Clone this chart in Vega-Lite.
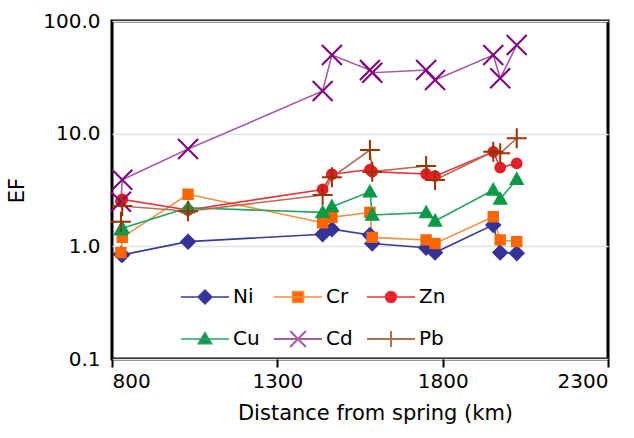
{
  "$schema": "https://vega.github.io/schema/vega-lite/v6.json",
  "width": 496,
  "height": 338,
  "autosize": "none",
  "padding": {"left": 112, "top": 21, "right": 26, "bottom": 79},
  "background": "white",
  "config": {
    "font": "DejaVu Sans",
    "view": {"stroke": "black", "strokeWidth": 3},
    "axis": {"labelFont": "DejaVu Sans", "titleFont": "DejaVu Sans", "labelColor": "black", "titleColor": "black", "labelFontSize": 20, "titleFontSize": 21, "titleFontWeight": "normal", "domain": false}
  },
  "data": {
    "values": [
      {"d": 827, "el": "Ni", "ef": 0.85}, {"d": 831, "el": "Ni", "ef": 0.84}, {"d": 1030, "el": "Ni", "ef": 1.10}, {"d": 1437, "el": "Ni", "ef": 1.28}, {"d": 1465, "el": "Ni", "ef": 1.42}, {"d": 1580, "el": "Ni", "ef": 1.26}, {"d": 1587, "el": "Ni", "ef": 1.06}, {"d": 1750, "el": "Ni", "ef": 0.97}, {"d": 1777, "el": "Ni", "ef": 0.88}, {"d": 1953, "el": "Ni", "ef": 1.55}, {"d": 1974, "el": "Ni", "ef": 0.88}, {"d": 2024, "el": "Ni", "ef": 0.87},
      {"d": 827, "el": "Cr", "ef": 0.88}, {"d": 831, "el": "Cr", "ef": 1.20}, {"d": 1030, "el": "Cr", "ef": 2.9}, {"d": 1437, "el": "Cr", "ef": 1.62}, {"d": 1465, "el": "Cr", "ef": 1.81}, {"d": 1580, "el": "Cr", "ef": 2.0}, {"d": 1587, "el": "Cr", "ef": 1.2}, {"d": 1750, "el": "Cr", "ef": 1.14}, {"d": 1777, "el": "Cr", "ef": 1.06}, {"d": 1953, "el": "Cr", "ef": 1.83}, {"d": 1974, "el": "Cr", "ef": 1.14}, {"d": 2024, "el": "Cr", "ef": 1.1},
      {"d": 827, "el": "Zn", "ef": 2.5}, {"d": 831, "el": "Zn", "ef": 2.61}, {"d": 1030, "el": "Zn", "ef": 2.1}, {"d": 1437, "el": "Zn", "ef": 3.2}, {"d": 1465, "el": "Zn", "ef": 4.36}, {"d": 1580, "el": "Zn", "ef": 4.8}, {"d": 1587, "el": "Zn", "ef": 4.6}, {"d": 1750, "el": "Zn", "ef": 4.38}, {"d": 1777, "el": "Zn", "ef": 4.2}, {"d": 1953, "el": "Zn", "ef": 6.9}, {"d": 1974, "el": "Zn", "ef": 5.0}, {"d": 2024, "el": "Zn", "ef": 5.45},
      {"d": 827, "el": "Cu", "ef": 1.40}, {"d": 831, "el": "Cu", "ef": 1.45}, {"d": 1030, "el": "Cu", "ef": 2.2}, {"d": 1437, "el": "Cu", "ef": 2.0}, {"d": 1465, "el": "Cu", "ef": 2.25}, {"d": 1580, "el": "Cu", "ef": 3.05}, {"d": 1587, "el": "Cu", "ef": 1.9}, {"d": 1750, "el": "Cu", "ef": 1.99}, {"d": 1777, "el": "Cu", "ef": 1.68}, {"d": 1953, "el": "Cu", "ef": 3.16}, {"d": 1974, "el": "Cu", "ef": 2.63}, {"d": 2024, "el": "Cu", "ef": 3.93},
      {"d": 827, "el": "Cd", "ef": 2.49}, {"d": 831, "el": "Cd", "ef": 3.9}, {"d": 1030, "el": "Cd", "ef": 7.3}, {"d": 1437, "el": "Cd", "ef": 23.9}, {"d": 1465, "el": "Cd", "ef": 49.9}, {"d": 1580, "el": "Cd", "ef": 36.7}, {"d": 1587, "el": "Cd", "ef": 34.7}, {"d": 1750, "el": "Cd", "ef": 36.7}, {"d": 1777, "el": "Cd", "ef": 29.9}, {"d": 1953, "el": "Cd", "ef": 49.9}, {"d": 1974, "el": "Cd", "ef": 31.0}, {"d": 2024, "el": "Cd", "ef": 61.2},
      {"d": 827, "el": "Pb", "ef": 1.65}, {"d": 831, "el": "Pb", "ef": 2.28}, {"d": 1030, "el": "Pb", "ef": 2.05}, {"d": 1437, "el": "Pb", "ef": 2.85}, {"d": 1465, "el": "Pb", "ef": 4.1}, {"d": 1580, "el": "Pb", "ef": 7.16}, {"d": 1587, "el": "Pb", "ef": 4.6}, {"d": 1750, "el": "Pb", "ef": 5.16}, {"d": 1777, "el": "Pb", "ef": 3.88}, {"d": 1953, "el": "Pb", "ef": 6.92}, {"d": 1974, "el": "Pb", "ef": 6.7}, {"d": 2024, "el": "Pb", "ef": 9.1}
    ]
  },
  "encoding": {
    "x": {"field": "d", "type": "quantitative", "scale": {"domain": [800, 2300], "nice": false, "zero": false},
      "axis": {"values": [800, 1300, 1800, 2300], "format": "d", "grid": false, "tickSize": 8, "tickWidth": 2, "tickColor": "black", "labelPadding": 4, "title": "Distance from spring (km)", "titlePadding": 11, "titleX": 263,
        "encode": {"ticks": {"update": {"y2": {"value": -9}}}}}},
    "y": {"field": "ef", "type": "quantitative", "scale": {"type": "log", "domain": [0.1, 100], "nice": false},
      "axis": {"values": [0.1, 1, 10, 100], "format": ".1f", "grid": true, "gridColor": "#e4e4e4", "gridWidth": 1.5, "ticks": false, "labelPadding": 12, "title": "EF", "titlePadding": 15}}
  },
  "layer": [
    {
      "mark": {"type": "line", "strokeWidth": 1.6},
      "encoding": {
        "color": {"field": "el", "type": "nominal",
          "scale": {"domain": ["Ni", "Cr", "Zn", "Cu", "Cd", "Pb"], "range": ["#3a3a9c", "#f5903e", "#e8323c", "#27a265", "#a65ca6", "#b3704f"]},
          "legend": {"title": null, "orient": "none", "direction": "horizontal", "legendX": 83, "legendY": 266, "columns": 3, "padding": 0, "columnPadding": 10, "rowPadding": 20,
            "symbolSize": 2304, "labelFont": "DejaVu Sans", "labelFontSize": 20, "labelColor": "black", "labelOffset": 18,
            "encode": {"symbols": {"update": {
              "shape": {"signal": "datum.value==='Ni'?'M-1,0L1,0M0,-0.29L0.29,0L0,0.29L-0.29,0Z':datum.value==='Cr'?'M-1,0L1,0M-0.23,-0.23L0.23,-0.23L0.23,0.23L-0.23,0.23Z':datum.value==='Zn'?'M-1,0L1,0M-0.23,0A0.23,0.23,0,1,0,0.23,0A0.23,0.23,0,1,0,-0.23,0Z':datum.value==='Cu'?'M-1,0L1,0M0,-0.27L0.28,0.2L-0.28,0.2Z':datum.value==='Cd'?'M-1,0L1,0M-0.33,-0.33L0.33,0.33M-0.33,0.33L0.33,-0.33':'M-1,0L1,0M0,-0.33L0,0.33'"},
              "fill": {"signal": "datum.value==='Ni'?'#333399':datum.value==='Cr'?'#ff6600':datum.value==='Zn'?'#e41e26':datum.value==='Cu'?'#0b9a48':'transparent'"},
              "size": {"value": 2304},
              "strokeWidth": {"signal": "datum.value==='Cd'||datum.value==='Pb'?2:1.5"},
              "opacity": {"value": 1}
            }}}
          }}
      }
    },
    {"transform": [{"filter": "datum.el==='Ni'"}], "mark": {"type": "point", "shape": "M0,-0.7L0.7,0L0,0.7L-0.7,0Z", "size": 400, "filled": true, "fill": "#333399", "stroke": "#333399", "strokeWidth": 1.8, "opacity": 1}},
    {"transform": [{"filter": "datum.el==='Cr'"}], "mark": {"type": "point", "shape": "M-0.48,-0.48L0.48,-0.48L0.48,0.48L-0.48,0.48Z", "size": 400, "filled": true, "fill": "#ff6600", "stroke": "#ff6600", "strokeWidth": 1.8, "opacity": 1}},
    {"transform": [{"filter": "datum.el==='Zn'"}], "mark": {"type": "point", "shape": "M-0.5,0A0.5,0.5,0,1,0,0.5,0A0.5,0.5,0,1,0,-0.5,0Z", "size": 400, "filled": true, "fill": "#e41e26", "stroke": "#e41e26", "strokeWidth": 1.8, "opacity": 1}},
    {"transform": [{"filter": "datum.el==='Cu'"}], "mark": {"type": "point", "shape": "M0,-0.62L0.62,0.48L-0.62,0.48Z", "size": 400, "filled": true, "fill": "#0b9a48", "stroke": "#0b9a48", "strokeWidth": 1.8, "opacity": 1}},
    {"transform": [{"filter": "datum.el==='Cd'"}], "mark": {"type": "point", "shape": "M-1,-1L1,1M-1,1L1,-1", "size": 400, "filled": false, "fill": "transparent", "stroke": "#800080", "strokeWidth": 2, "opacity": 1}},
    {"transform": [{"filter": "datum.el==='Pb'"}], "mark": {"type": "point", "shape": "M-1,0L1,0M0,-1L0,1", "size": 400, "filled": false, "fill": "transparent", "stroke": "#993300", "strokeWidth": 2, "opacity": 1}}
  ]
}
